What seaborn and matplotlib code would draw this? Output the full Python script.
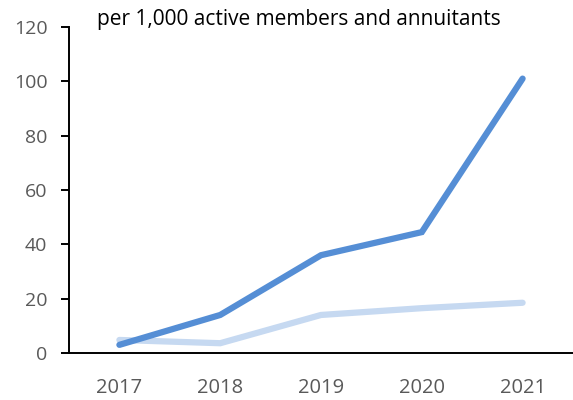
import matplotlib
matplotlib.use("Agg")
import matplotlib.pyplot as plt
import seaborn as sns
import pandas as pd

years = ["2017", "2018", "2019", "2020", "2021"]
series_a = [3.0, 14.0, 36.0, 44.5, 101.0]
series_b = [4.8, 3.6, 14.0, 16.5, 18.5]
y_ticks = [0, 20, 40, 60, 80, 100, 120]
title_text = "per 1,000 active members and annuitants"

sns.set_theme(style="white")
plt.rcParams["font.family"] = ["Open Sans", "DejaVu Sans"]

df = pd.DataFrame({
    "year": years * 2,
    "value": series_a + series_b,
    "series": ["a"] * len(years) + ["b"] * len(years),
})

fig = plt.figure(figsize=(5.73, 4.0), dpi=100)
ax = fig.add_axes([69 / 573, 47 / 400, 504 / 573, 326 / 400])

sns.lineplot(data=df, x="year", y="value", hue="series",
             palette={"a": "#558ED5", "b": "#C6D9F1"},
             hue_order=["b", "a"], linewidth=4.5, legend=False, ax=ax,
             solid_capstyle="round", solid_joinstyle="miter")

ax.set_xlim(-0.5, 4.5)
ax.set_ylim(0, 120)
ax.set_yticks(y_ticks)
ax.set_xlabel("")
ax.set_ylabel("")
for s in ["top", "right"]:
    ax.spines[s].set_visible(False)
for s in ["left", "bottom"]:
    ax.spines[s].set_color("black")
    ax.spines[s].set_linewidth(1.4)
ax.tick_params(axis="y", which="major", direction="out", length=5.5, width=1.4,
               color="black", labelsize=14, labelcolor="#595959", pad=10, left=True)
ax.tick_params(axis="x", length=0, labelsize=14.5, labelcolor="#595959", pad=18)

fig.text(97 / 573, 1 - 20 / 400, title_text, fontsize=15, color="black",
         ha="left", va="center")

fig.savefig("out.png", dpi=100)
